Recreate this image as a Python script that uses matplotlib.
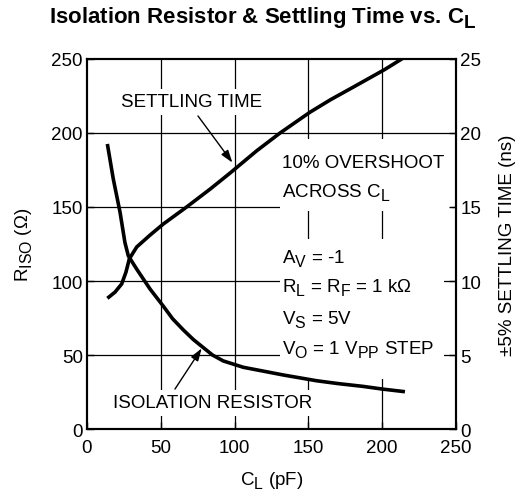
import matplotlib
matplotlib.use("Agg")
import matplotlib.pyplot as plt
from matplotlib.patches import Rectangle
import matplotlib._mathtext as _mt

# larger, lower subscripts like the original artwork
_mt.SHRINK_FACTOR = 0.85
_mt.FontConstantsBase.sub1 = 0.45
_mt.FontConstantsBase.sub2 = 0.55

plt.rcParams['font.family'] = ['Liberation Sans', 'DejaVu Sans']
plt.rcParams['mathtext.fontset'] = 'custom'
plt.rcParams['mathtext.rm'] = 'Liberation Sans'
plt.rcParams['mathtext.it'] = 'Liberation Sans'
plt.rcParams['mathtext.bf'] = 'Liberation Sans:bold'

# Isolation resistor (left axis, ohms) vs C_L (pF)
riso_cl = [13.8, 17.8, 22.4, 25.7, 28, 33.7, 42.7, 51.7, 58, 65.2, 72, 78.8, 85,
           92.3, 105.9, 120, 133, 155.6, 170, 187, 200, 215.4]
riso = [192.6, 169, 146.4, 126, 117, 108, 94.6, 83, 74.5, 67, 60.5, 55, 50,
        46, 41.7, 39, 36.5, 32.6, 30.7, 28.8, 27, 25.2]

# Settling time (right axis, ns) vs C_L (pF)
ts_cl = [13.8, 19, 23.5, 26.4, 28.7, 33.7, 42.7, 51.7, 67.5, 83.3, 97, 115,
         130.8, 151, 165, 180.4, 201.9, 214.3]
ts = [8.83, 9.25, 9.8, 10.6, 11.5, 12.3, 13.1, 13.85, 15.0, 16.2, 17.3, 18.8,
      20.0, 21.4, 22.25, 23.1, 24.3, 25.07]

xticks = [0, 50, 100, 150, 200, 250]
yticks_left = [0, 50, 100, 150, 200, 250]
yticks_right = [0, 5, 10, 15, 20, 25]

fs = 13.5

fig = plt.figure(figsize=(5.25, 5.02), dpi=100)
ax = fig.add_axes([0.1657, 0.1434, 0.7029, 0.7371])
ax.set_xlim(0, 250)
ax.set_ylim(0, 250)
ax2 = ax.twinx()
ax2.set_ylim(0, 25)

for v in xticks[1:-1]:
    ax.axvline(v, color='black', lw=0.9, zorder=1)
for v in yticks_left[1:-1]:
    ax.axhline(v, color='black', lw=0.9, zorder=1)

# white masks behind the condition text
ax.add_patch(Rectangle((0.523, 0.589), 0.466, 0.195, transform=ax.transAxes,
                       facecolor='white', edgecolor='none', zorder=2))
ax.add_patch(Rectangle((0.523, 0.135), 0.444, 0.378, transform=ax.transAxes,
                       facecolor='white', edgecolor='none', zorder=2))

ax.plot(riso_cl, riso, color='black', lw=2.6, zorder=4, solid_capstyle='butt',
        solid_joinstyle='round')
ax2.plot(ts_cl, ts, color='black', lw=2.6, zorder=4, solid_capstyle='butt',
         solid_joinstyle='round')

ax.set_xticks(xticks)
ax.set_yticks(yticks_left)
ax2.set_yticks(yticks_right)
for a in (ax, ax2):
    a.tick_params(direction='in', length=5, width=1.0, labelsize=fs, pad=3)
    for s in a.spines.values():
        s.set_linewidth(1.5)
ax.tick_params(axis='x', pad=7)

ax.text(70.8, 221, 'SETTLING TIME', fontsize=fs, ha='center', va='center', zorder=3,
        bbox=dict(facecolor='white', edgecolor='none', pad=3))
ax.annotate('', xy=(98.5, 180), xytext=(75.2, 211.5),
            arrowprops=dict(arrowstyle='-|>,head_length=0.75,head_width=0.25',
                            color='black', lw=1.0, shrinkA=0, shrinkB=0),
            zorder=5)
ax.text(85, 17.6, 'ISOLATION RESISTOR', fontsize=fs, ha='center', va='center', zorder=3,
        bbox=dict(facecolor='white', edgecolor='none', pad=3))
ax.annotate('', xy=(77.7, 54.5), xytext=(59.6, 27),
            arrowprops=dict(arrowstyle='-|>,head_length=0.75,head_width=0.25',
                            color='black', lw=1.0, shrinkA=0, shrinkB=0),
            zorder=5)

x0 = 132
ax.text(x0, 177, '10% OVERSHOOT', fontsize=fs, ha='left', va='baseline', zorder=3)
ax.text(x0, 157.4, r'ACROSS $\mathregular{C_L}$', fontsize=fs, ha='left', va='baseline', zorder=3)
ax.text(x0, 112.8, r'$\mathregular{A_V}$ = -1', fontsize=fs, ha='left', va='baseline', zorder=3)
ax.text(x0, 93.2, r'$\mathregular{R_L}$ = $\mathregular{R_F}$ = 1 k$\mathregular{\Omega}$',
        fontsize=fs, ha='left', va='baseline', zorder=3)
ax.text(x0, 71, r'$\mathregular{V_S}$ = 5V', fontsize=fs, ha='left', va='baseline', zorder=3)
ax.text(x0, 51, r'$\mathregular{V_O}$ = 1 $\mathregular{V_{PP}}$ STEP', fontsize=fs,
        ha='left', va='baseline', zorder=3)

ax.set_xlabel(r'$\mathregular{C_L}$ (pF)', fontsize=fs, labelpad=10)
ax.set_ylabel(r'$\mathregular{R_{ISO}}$ ($\mathregular{\Omega}$)', fontsize=fs, labelpad=12)
ax2.set_ylabel(r'±5% SETTLING TIME (ns)', fontsize=fs, labelpad=13)

fig.text(0.5, 0.964, r'Isolation Resistor & Settling Time vs. $\mathbf{C_L}$', fontsize=16,
         fontweight='bold', ha='center', va='center')

fig.savefig('out.png', dpi=100)
